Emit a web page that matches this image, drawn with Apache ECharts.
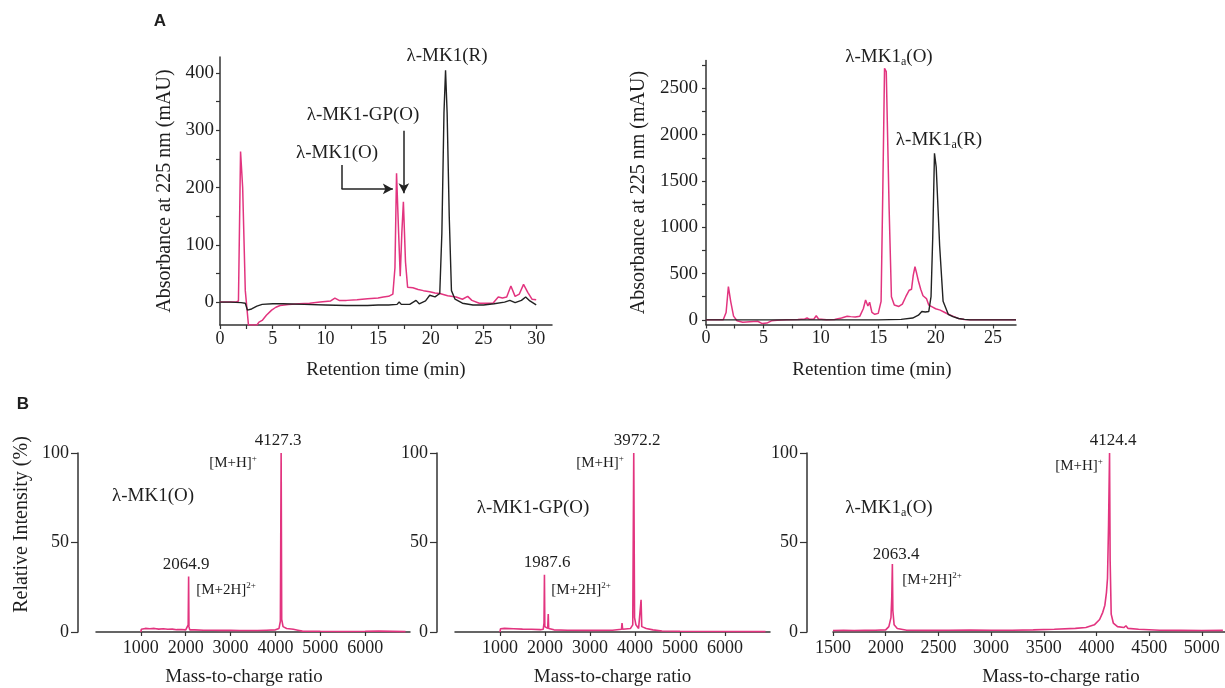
<!DOCTYPE html>
<html><head><meta charset="utf-8">
<script src="https://cdn.jsdelivr.net/npm/echarts@6/dist/echarts.min.js"></script>
<style>html,body{margin:0;padding:0;background:#fff}#c{width:1225px;height:688px}</style>
</head><body><div id="c"></div>
<script>
const PINK = '#e2347f', BLACK = '#222222', AX = '#333333', TXT = '#1e1e1e';
const FONT = '"Liberation Serif","Times New Roman",serif';
const SANS = '"Liberation Sans",Arial,sans-serif';

// ---- Panel A (left): HPLC, retention time (min) vs absorbance (mAU)
const aLeftOxidized = [[0,0],[0.5,0],[1,0],[1.5,0],[1.75,2],[1.95,263],[2.15,200],[2.4,20],[2.7,-40],[3.5,-40],[3.7,-35],[4.0,-32],[4.4,-23],[4.9,-14],[5.3,-9],[5.7,-6],[6.5,-4],[7.5,-3],[8.5,-2],[9.5,0],[10.5,2],[10.9,7],[11.3,3],[12,3],[13,4],[14,6],[15,7],[15.5,9],[16,10],[16.4,14],[16.6,60],[16.75,225],[16.95,120],[17.1,45],[17.25,120],[17.4,175],[17.6,70],[17.8,26],[18.3,25],[18.8,22],[19.3,20],[19.9,18],[20.4,16],[20.85,15],[21.6,11],[22.4,9],[23.0,5],[23.5,10],[23.9,3],[24.6,-2],[25.2,-2],[25.9,-2],[26.4,9],[26.8,7],[27.2,9],[27.6,28],[28.0,10],[28.4,14],[28.8,31],[29.2,17],[29.6,5],[30,4]];
const aLeftReduced = [[0,0],[1,0],[2,-1],[2.4,-2],[2.6,-14],[3.0,-12],[3.5,-7],[4.0,-4],[5,-3],[6,-3],[8,-4],[10,-5],[12,-6],[14,-6],[15,-5],[16,-5],[16.8,-4],[17.0,0],[17.2,-4],[18,-4],[18.6,3],[18.9,-3],[19.5,2],[19.9,12],[20.4,9],[20.85,15],[21.05,120],[21.25,330],[21.4,405],[21.55,330],[21.75,150],[21.96,20],[22.3,5],[23,-2],[24,-5],[25,-5],[26,-3],[27,0],[27.5,3],[28,-1],[28.6,3],[29,9],[29.4,2],[30,-5]];
const aLeftXLabels = [0,5,10,15,20,25,30];
const aLeftXTicks = [0,2.5,5,7.5,10,12.5,15,17.5,20,22.5,25,27.5,30];
const aLeftYLabels = [0,100,200,300,400];
const aLeftYTicks = [0,50,100,150,200,250,300,350,400];

// ---- Panel A (right)
const aRightOxidized = [[0,0],[1,0],[1.5,2],[1.75,80],[1.95,360],[2.15,200],[2.4,40],[2.7,-10],[3.2,-25],[3.8,-20],[4.5,-15],[4.9,-40],[5.3,-35],[5.7,-10],[6.2,-5],[7,0],[8,5],[8.6,10],[8.8,20],[9.0,8],[9.4,10],[9.6,45],[9.8,10],[10.5,0],[11.2,5],[11.8,20],[12.3,40],[12.6,35],[13.0,30],[13.4,40],[13.7,120],[13.9,215],[14.1,150],[14.25,190],[14.45,80],[14.7,60],[15.0,70],[15.25,200],[15.4,1400],[15.55,2715],[15.7,2680],[15.95,1200],[16.15,250],[16.4,160],[16.8,145],[17.1,170],[17.4,250],[17.7,320],[17.9,330],[18.05,480],[18.2,575],[18.35,500],[18.5,420],[18.7,330],[18.9,260],[19.2,230],[19.4,160],[19.7,140],[20.0,120],[20.4,105],[20.8,80],[21.2,55],[21.6,35],[22.0,15],[22.5,5],[23,0],[27,0]];
const aRightReduced = [[0,0],[5,0],[10,0],[15,0],[17,5],[18,20],[18.5,50],[18.8,90],[19.1,85],[19.4,90],[19.6,250],[19.75,900],[19.9,1798],[20.05,1650],[20.35,800],[20.65,200],[21.1,60],[21.5,35],[22,15],[22.5,5],[23,0],[27,0]];
const aRightXLabels = [0,5,10,15,20,25];
const aRightXTicks = [0,2.5,5,7.5,10,12.5,15,17.5,20,22.5,25];
const aRightYLabels = [0,500,1000,1500,2000,2500];
const aRightYTicks = [0,250,500,750,1000,1250,1500,1750,2000,2250,2500,2750];

// ---- Panel B: mass spectra, m/z vs relative intensity (%)
const msMK1 = [[1000,0],[1010,1.5],[1100,2],[1200,1.8],[1300,2],[1400,1.6],[1500,1.8],[1600,1.5],[1700,1.6],[1800,1.3],[1900,1.4],[2000,1.2],[2040,1.5],[2055,4],[2064.9,31],[2072,3],[2090,1.2],[2200,1.2],[2400,1],[2600,1],[2800,0.9],[3000,0.9],[3200,0.8],[3400,0.8],[3600,0.8],[3800,1],[4000,1.2],[4080,2],[4110,6],[4127.3,100],[4140,7],[4170,3],[4250,2],[4400,1.5],[4500,1],[4600,0.5],[5000,0.4],[5500,0.3],[6000,0.4],[6300,0.5],[6900,0.2]];
const msMK1GP = [[1000,0],[1010,1.8],[1100,2],[1300,1.8],[1500,1.6],[1700,1.5],[1900,1.3],[1960,1.5],[1978,5],[1987.6,32],[1996,3],[2060,2],[2072,10],[2082,2],[2200,1.2],[2500,1],[3000,0.9],[3500,1],[3700,1.5],[3712,5],[3725,1.5],[3900,2],[3950,4],[3972.2,100],[3990,8],[4020,4],[4080,2],[4120,3],[4135,18],[4150,3],[4250,2],[4400,1.2],[4600,0.6],[5000,0.4],[6000,0.3],[6900,0.2]];
const msMK1a = [[1500,0.8],[1600,0.9],[1700,0.8],[1800,0.9],[1900,1],[2000,1.2],[2030,3],[2050,8],[2058,20],[2063.4,38],[2068,12],[2080,4],[2110,2],[2200,1],[2400,0.9],[2600,1],[2800,1.1],[3000,1],[3200,1],[3400,1.2],[3600,1.5],[3800,2],[3900,2.5],[3980,4],[4030,7],[4060,11],[4080,15],[4095,22],[4105,30],[4115,60],[4124.4,100],[4130,40],[4140,10],[4160,5],[4200,3],[4260,2.5],[4280,3.5],[4300,2],[4400,1.5],[4600,1],[4800,0.9],[5000,0.8],[5200,0.9]];
const msXLabels = [1000,2000,3000,4000,5000,6000];
const msXLabelsB3 = [1500,2000,2500,3000,3500,4000,4500,5000];
const msYLabels = [0,50,100];

function axis(o) {
  return {
    type: 'value', gridIndex: o.g, min: o.min, max: o.max,
    name: o.name || '', nameLocation: 'middle', nameGap: o.gap || 30,
    nameTextStyle: { fontFamily: FONT, fontSize: o.nameSize || 19, color: TXT, padding: o.pad || 0 },
    offset: o.offset || 0,
    axisLine: { show: true, onZero: false, lineStyle: { color: AX, width: 1.5 } },
    axisTick: { show: true, inside: false, length: o.tl || 4, customValues: o.ticks, lineStyle: { color: AX, width: 1.2 } },
    axisLabel: { show: true, customValues: o.labels, margin: o.margin || 6, fontFamily: FONT, fontSize: o.labelSize || 18, color: TXT, formatter: v => String(v) },
    splitLine: { show: false }
  };
}
function line(xi, data, color, w, extra) {
  return Object.assign({ type: 'line', xAxisIndex: xi, yAxisIndex: xi, data: data, showSymbol: false, symbol: 'none',
    lineStyle: { color: color, width: w }, clip: true, silent: true, z: 3 }, extra || {});
}
function txt(x, y, text, size, extra) {
  return Object.assign({ type: 'text', x: x, y: y, silent: true,
    style: Object.assign({ text: text, fontFamily: FONT, fontSize: size, fill: TXT, align: 'center', verticalAlign: 'middle', textAlign: 'center', textVerticalAlign: 'middle' }, extra || {}) });
}
const subRich = { n: { fontFamily: FONT, fontSize: 19, lineHeight: 22, fill: TXT }, s: { fontFamily: FONT, fontSize: 12, lineHeight: 12, verticalAlign: 'bottom', fill: TXT } };
const supRich = { n: { fontFamily: FONT, fontSize: 15, lineHeight: 18, fill: TXT }, p: { fontFamily: FONT, fontSize: 9, lineHeight: 9, verticalAlign: 'top', fill: TXT } };

const chart = echarts.init(document.getElementById('c'), null, { renderer: 'canvas' });
chart.setOption({
  animation: false,
  backgroundColor: '#fff',
  grid: [
    { left: 220, top: 57, width: 332, height: 268 },
    { left: 706, top: 60.5, width: 310, height: 264 },
    { left: 96, top: 453, width: 314, height: 180 },
    { left: 455, top: 453, width: 315, height: 180 },
    { left: 833, top: 453, width: 392, height: 180 }
  ],
  xAxis: [
    axis({ g: 0, min: 0, max: 31.5, labels: aLeftXLabels, ticks: aLeftXTicks, name: 'Retention time (min)', gap: 36, margin: 5 }),
    axis({ g: 1, min: 0, max: 27, labels: aRightXLabels, ticks: aRightXTicks, name: 'Retention time (min)', gap: 36, margin: 5, pad: [0, 0, 0, 22] }),
    axis({ g: 2, min: 0, max: 7000, labels: msXLabels, ticks: msXLabels, name: 'Mass-to-charge ratio', gap: 36, margin: 7, pad: [0, 18, 0, 0] }),
    axis({ g: 3, min: 0, max: 7000, labels: msXLabels, ticks: msXLabels, name: 'Mass-to-charge ratio', gap: 36, margin: 7 }),
    axis({ g: 4, min: 1500, max: 5220, labels: msXLabelsB3, ticks: msXLabelsB3, name: 'Mass-to-charge ratio', gap: 36, margin: 7, pad: [0, 0, 0, 64] })
  ],
  yAxis: [
    axis({ g: 0, min: -40, max: 428, labels: aLeftYLabels, ticks: aLeftYTicks, name: 'Absorbance at 225 nm (mAU)', gap: 45, nameSize: 20, margin: 6, labelSize: 19 }),
    axis({ g: 1, min: -50, max: 2800, labels: aRightYLabels, ticks: aRightYTicks, name: 'Absorbance at 225 nm (mAU)', gap: 57, nameSize: 20, margin: 8, labelSize: 19 }),
    axis({ g: 2, min: 0, max: 100, labels: msYLabels, ticks: msYLabels, name: 'Relative Intensity (%)', gap: 46, nameSize: 20, offset: 18, tl: 7, margin: 9, pad: [0, 0, 0, 36] }),
    axis({ g: 3, min: 0, max: 100, labels: msYLabels, ticks: msYLabels, offset: 18, tl: 7, margin: 9 }),
    axis({ g: 4, min: 0, max: 100, labels: msYLabels, ticks: msYLabels, offset: 26, tl: 7, margin: 9 })
  ],
  series: [
    line(0, aLeftOxidized, PINK, 1.5, {
      markLine: {
        silent: true, animation: false, symbol: ['none', 'arrow'], symbolSize: [8, 10],
        label: { show: false }, lineStyle: { color: BLACK, width: 1.5, type: 'solid' },
        data: [
          [{ coord: [11.53, 239.5], symbol: 'none' }, { coord: [11.53, 197.6], symbol: 'none' }],
          [{ coord: [11.53, 197.6] }, { coord: [16.4, 197.6] }],
          [{ coord: [17.44, 299] }, { coord: [17.44, 190] }]
        ]
      }
    }),
    line(0, aLeftReduced, BLACK, 1.4),
    line(1, aRightOxidized, PINK, 1.5),
    line(1, aRightReduced, BLACK, 1.4),
    line(2, msMK1, PINK, 1.6),
    line(3, msMK1GP, PINK, 1.6),
    line(4, msMK1a, PINK, 1.6)
  ],
  graphic: [
    txt(160, 21, 'A', 17, { fontFamily: SANS, fontWeight: 'bold' }),
    txt(23, 404, 'B', 17, { fontFamily: SANS, fontWeight: 'bold' }),
    txt(447, 56, 'λ-MK1(R)', 19),
    txt(363, 115, 'λ-MK1-GP(O)', 19),
    txt(337, 153, 'λ-MK1(O)', 19),
    txt(889, 57, '{n|λ-MK1}{s|a}{n|(O)}', 19, { rich: subRich }),
    txt(939, 140, '{n|λ-MK1}{s|a}{n|(R)}', 19, { rich: subRich }),
    txt(278, 441, '4127.3', 17),
    txt(233, 463, '{n|[M+H]}{p|+}', 15, { rich: supRich }),
    txt(153, 496, 'λ-MK1(O)', 19),
    txt(186, 565, '2064.9', 17),
    txt(226, 590, '{n|[M+2H]}{p|2+}', 15, { rich: supRich }),
    txt(637, 441, '3972.2', 17),
    txt(600, 463, '{n|[M+H]}{p|+}', 15, { rich: supRich }),
    txt(533, 508, 'λ-MK1-GP(O)', 19),
    txt(547, 563, '1987.6', 17),
    txt(581, 590, '{n|[M+2H]}{p|2+}', 15, { rich: supRich }),
    txt(1113, 441, '4124.4', 17),
    txt(1079, 466, '{n|[M+H]}{p|+}', 15, { rich: supRich }),
    txt(889, 508, '{n|λ-MK1}{s|a}{n|(O)}', 19, { rich: subRich }),
    txt(896, 555, '2063.4', 17),
    txt(932, 580, '{n|[M+2H]}{p|2+}', 15, { rich: supRich })
  ]
});
</script>
</body></html>
